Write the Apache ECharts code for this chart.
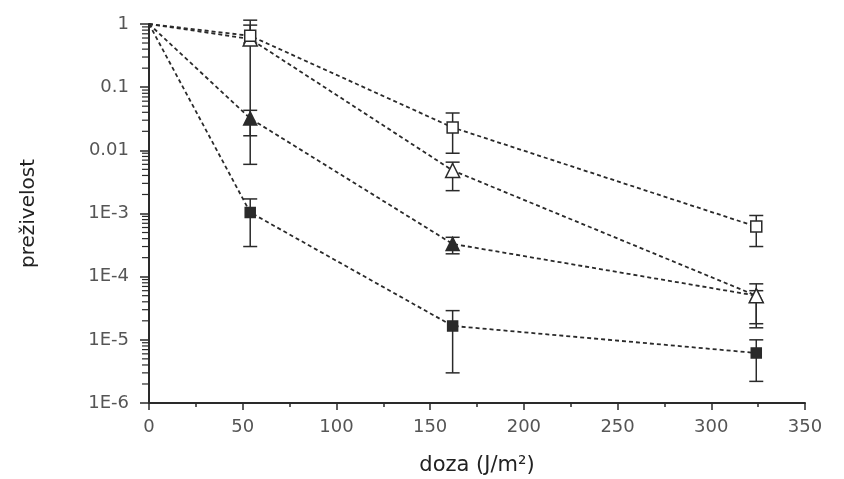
<!DOCTYPE html>
<html>
<head>
<meta charset="utf-8">
<script src="https://cdn.jsdelivr.net/npm/echarts@6/dist/echarts.min.js"></script>
<style>
  html, body { margin: 0; padding: 0; background: #fff; }
  #chart { width: 844px; height: 479px; }
</style>
</head>
<body>
<div id="chart"></div>
<script>
// doses (J/m2) and survival for the four strains
const doses = [0, 54, 162, 324];

const openSquare = [1, 0.65, 0.023, 6.2e-4];
const openSquareLow = [null, 0.5, 0.009, 3e-4];
const openSquareHigh = [null, 1.15, 0.039, 9.3e-4];

const openTriangle = [1, 0.58, 0.0048, 5e-5];
const openTriangleLow = [null, 0.006, 0.0023, 1.8e-5];
const openTriangleHigh = [null, 0.96, 0.0065, 7.7e-5];

const filledTriangle = [1, 0.032, 3.3e-4, 5e-5];
const filledTriangleLow = [null, 0.017, 2.3e-4, 1.55e-5];
const filledTriangleHigh = [null, 0.043, 4.2e-4, 6e-5];

const filledSquare = [1, 1.04e-3, 1.66e-5, 6.2e-6];
const filledSquareLow = [null, 3e-4, 3e-6, 2.2e-6];
const filledSquareHigh = [null, 1.7e-3, 2.9e-5, 1e-5];

const yTickLabels = {1: '1', 0.1: '0.1', 0.01: '0.01', 0.001: '1E-3', 0.0001: '1E-4', 0.00001: '1E-5', 0.000001: '1E-6'};
const decades = [1e-6, 1e-5, 1e-4, 1e-3, 1e-2, 1e-1];
const minorSteps = [2, 3, 4, 5, 6, 7, 8, 9];

const ink = '#2a2a2a';
const font = 'DejaVu Sans';

function pairs(ys) {
  return doses.map((x, i) => ({value: [x, ys[i]], symbol: i === 0 ? 'none' : undefined}));
}
function bars(low, high) {
  const out = [];
  doses.forEach((x, i) => { if (low[i] != null) out.push([x, low[i], high[i]]); });
  return out;
}

function lineSeries(name, ys, symbol, size, fill, z) {
  return {
    name, type: 'line', data: pairs(ys), symbol, symbolSize: size, z,
    lineStyle: {color: ink, width: 1.8, type: [4, 3]},
    itemStyle: {color: fill, borderColor: ink, borderWidth: 1.5},
    emphasis: {disabled: true}
  };
}

function errorSeries(low, high) {
  return {
    type: 'custom', z: 2,
    data: bars(low, high),
    renderItem: (params, api) => {
      const x = api.value(0);
      const lo = api.coord([x, api.value(1)]);
      const hi = api.coord([x, api.value(2)]);
      const w = 7;
      const style = {stroke: ink, lineWidth: 1.5};
      return {
        type: 'group',
        children: [
          {type: 'line', shape: {x1: lo[0], y1: lo[1], x2: hi[0], y2: hi[1]}, style},
          {type: 'line', shape: {x1: lo[0] - w, y1: lo[1], x2: lo[0] + w, y2: lo[1]}, style},
          {type: 'line', shape: {x1: hi[0] - w, y1: hi[1], x2: hi[0] + w, y2: hi[1]}, style}
        ]
      };
    }
  };
}

// log-spaced minor ticks on the y axis
const minorTickValues = [];
decades.forEach(d => minorSteps.forEach(s => minorTickValues.push([0, d * s])));
const minorTickSeries = {
  type: 'custom', z: 10, silent: true, clip: false,
  data: minorTickValues,
  renderItem: (params, api) => {
    const p = api.coord([0, api.value(1)]);
    return {
      type: 'line', z2: 10,
      shape: {x1: p[0] - 7, y1: p[1], x2: p[0], y2: p[1]},
      style: {stroke: ink, lineWidth: 1.2}
    };
  }
};

const chart = echarts.init(document.getElementById('chart'));
chart.setOption({
  animation: false,
  grid: {left: 149, right: 39, top: 24, bottom: 76, outerBoundsMode: 'none'},
  xAxis: {
    type: 'value', min: 0, max: 350, interval: 50,
    name: 'doza (J/m²)', nameLocation: 'middle', nameGap: 52,
    nameTextStyle: {fontFamily: font, fontSize: 21, color: '#222'},
    axisLine: {lineStyle: {color: ink, width: 2}},
    axisTick: {lineStyle: {color: ink, width: 1.5}, length: 7},
    minorTick: {show: true, splitNumber: 2, length: 4, lineStyle: {color: ink, width: 1.5}},
    axisLabel: {fontFamily: font, fontSize: 18, color: '#555', margin: 15},
    splitLine: {show: false}
  },
  yAxis: {
    type: 'log', logBase: 10, min: 1e-6, max: 1,
    name: 'preživelost', nameLocation: 'middle', nameGap: 110, nameRotate: 90,
    nameTextStyle: {fontFamily: font, fontSize: 20, color: '#222'},
    axisLine: {lineStyle: {color: ink, width: 2}},
    axisTick: {lineStyle: {color: ink, width: 1.5}, length: 9},
    axisLabel: {
      fontFamily: font, fontSize: 18, color: '#555', margin: 20,
      formatter: v => yTickLabels[v] !== undefined ? yTickLabels[v] : ''
    },
    splitLine: {show: false}
  },
  series: [
    minorTickSeries,
    errorSeries(openSquareLow, openSquareHigh),
    errorSeries(openTriangleLow, openTriangleHigh),
    errorSeries(filledTriangleLow, filledTriangleHigh),
    errorSeries(filledSquareLow, filledSquareHigh),
    lineSeries('filledSquare', filledSquare, 'rect', 10, ink, 3),
    lineSeries('filledTriangle', filledTriangle, 'triangle', 13, ink, 4),
    lineSeries('openTriangle', openTriangle, 'triangle', 14, '#fff', 5),
    lineSeries('openSquare', openSquare, 'rect', 11, '#fff', 6)
  ]
});
</script>
</body>
</html>
